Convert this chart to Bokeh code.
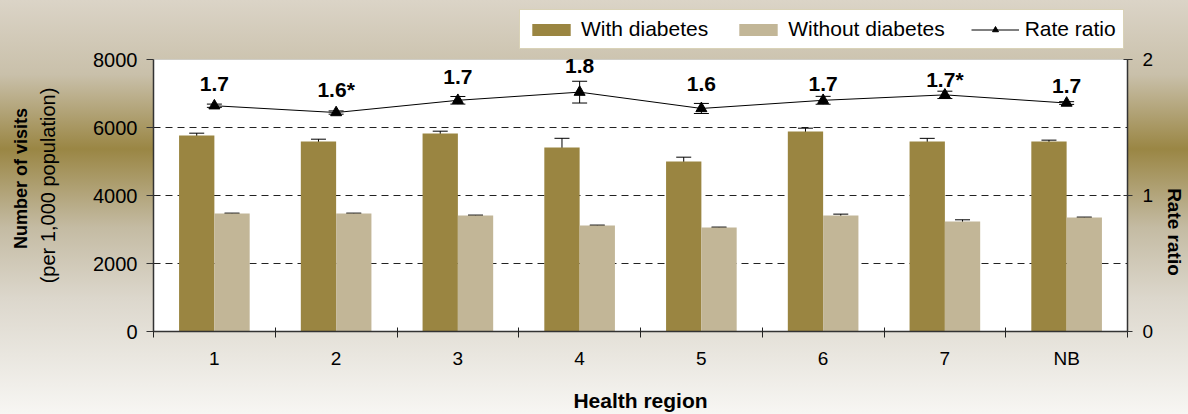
import numpy as np
from bokeh.plotting import figure
from bokeh.models import (ColumnDataSource, Range1d, LinearAxis, FixedTicker, Whisker,
                          TeeHead, Legend, LegendItem, BoxAnnotation)
from bokeh.core.properties import value
from bokeh.embed import file_html
from bokeh.resources import INLINE

# Visits per 1,000 population by health region
regions = ["1", "2", "3", "4", "5", "6", "7", "NB"]
with_diabetes = [5765, 5588, 5824, 5412, 5000, 5882, 5588, 5588]
with_diabetes_ci = [68, 68, 68, 270, 127, 98, 93, 40]
without_diabetes = [3470, 3470, 3412, 3118, 3059, 3412, 3235, 3353]
without_diabetes_ci = [12, 12, 12, 12, 12, 40, 50, 12]

# Rate ratio (with / without diabetes); "*" marks a significant difference
rate_ratio = [1.66, 1.61, 1.70, 1.76, 1.64, 1.70, 1.74, 1.68]
rate_ratio_ci = [0.012, 0.012, 0.028, 0.08, 0.037, 0.029, 0.027, 0.01]
significance = ["", "*", "", "", "", "", "*", ""]

visit_ticks = [0, 2000, 4000, 6000, 8000]
ratio_ticks = [0, 1, 2]
visit_max, ratio_max = 8000, 2

FONT = "Liberation Sans"
DARK = "#9a8541"
LIGHT = "#c2b697"
AXIS = "#333333"
NBSP = "\u00a0"

n = len(regions)
centers = np.arange(n) + 0.5
bar_w = 0.29
off = 0.145

# The frame reaches the top of the canvas so the legend can sit above the
# white plotting box; both ranges are stretched by the same factor.
FRAME_H, BOX_H = 331, 272
stretch = FRAME_H / BOX_H

p = figure(width=1188, height=414, title=None,
           x_range=Range1d(0, n), y_range=Range1d(0, visit_max * stretch),
           output_backend="svg", toolbar_location=None,
           min_border_left=153, min_border_right=58, min_border_top=0, min_border_bottom=83)
p.extra_y_ranges = {"ratio": Range1d(0, ratio_max * stretch)}
p.background_fill_color = None
p.border_fill_color = None
p.outline_line_color = None
p.styles = {"background": "linear-gradient(180deg, #dbd4c7 0%, #c9c0aa 18%, #9a8644 36%, "
                          "#c4bba3 55%, #dcd7cc 72%, #f7f6f3 100%)"}

# white plotting box
p.add_layout(BoxAnnotation(left=0, right=n, bottom=0, top=visit_max, fill_color="white",
                           fill_alpha=1, line_color="#9a9a9a", line_width=1, level="image"))

src = ColumnDataSource(dict(
    x_with=centers - off, x_without=centers + off, x=centers,
    with_d=with_diabetes,
    with_lo=[v - e for v, e in zip(with_diabetes, with_diabetes_ci)],
    with_hi=[v + e for v, e in zip(with_diabetes, with_diabetes_ci)],
    without_d=without_diabetes,
    without_lo=[v - e for v, e in zip(without_diabetes, without_diabetes_ci)],
    without_hi=[v + e for v, e in zip(without_diabetes, without_diabetes_ci)],
    ratio=rate_ratio,
    ratio_lo=[v - e for v, e in zip(rate_ratio, rate_ratio_ci)],
    ratio_hi=[v + e for v, e in zip(rate_ratio, rate_ratio_ci)],
    label=[f"{r:.1f}{s}" for r, s in zip(rate_ratio, significance)],
    lift=[-22, -23, -23, -26, -24, -16, -15, -17],
))

# dashed horizontal grid
p.xgrid.visible = False
p.ygrid.ticker = FixedTicker(ticks=[2000, 4000, 6000])
p.ygrid.grid_line_color = "#222222"
p.ygrid.grid_line_dash = "7 5"
p.ygrid.grid_line_width = 1

# bars
r_with = p.vbar(x="x_with", top="with_d", width=bar_w, source=src, fill_color=DARK, line_color=None)
r_without = p.vbar(x="x_without", top="without_d", width=bar_w, source=src, fill_color=LIGHT, line_color=None)


def whisker(base, lo, hi, rng="default"):
    w = Whisker(base=base, lower=lo, upper=hi, source=src, line_color="black", line_width=1,
                upper_head=TeeHead(size=15, line_color="black", line_width=1),
                lower_head=TeeHead(size=15, line_color="black", line_width=1),
                y_range_name=rng)
    p.add_layout(w)


whisker("x_with", "with_lo", "with_hi")
whisker("x_without", "without_lo", "without_hi")

# rate ratio on the secondary axis
r_line = p.line(x="x", y="ratio", source=src, line_color="black", line_width=1, y_range_name="ratio")
whisker("x", "ratio_lo", "ratio_hi", rng="ratio")
r_pts = p.scatter(x="x", y="ratio", source=src, marker="triangle", size=11, fill_color="black",
                  line_color="black", y_range_name="ratio")
p.text(x="x", y="ratio", text="label", source=src, y_range_name="ratio", y_offset="lift",
       text_font=value(FONT), text_font_style="bold", text_font_size="21px",
       text_align="center", text_baseline="alphabetic", text_color="black")

# left axis: visits
yax = p.yaxis[0]
yax.bounds = (0, visit_max)
yax.ticker = FixedTicker(ticks=visit_ticks)
yax.major_tick_in = 0
yax.major_tick_out = 7
yax.minor_tick_line_color = None
yax.major_label_standoff = 9
yax.major_label_text_font = FONT
yax.major_label_text_font_size = "20px"
yax.major_label_text_color = "black"
yax.axis_line_color = AXIS
yax.axis_line_width = 1.5
yax.major_tick_line_color = AXIS
# trailing no-break spaces lower the title along the axis
yax.axis_label = "(per 1,000 population)" + NBSP * 7
yax.axis_label_text_font = FONT
yax.axis_label_text_font_size = "20px"
yax.axis_label_text_font_style = "normal"
yax.axis_label_text_color = "black"
yax.axis_label_standoff = 31

# outer left title line (bold); carries no visible ticks or numbers
title_ax = LinearAxis(ticker=FixedTicker(ticks=[0]), bounds=(0, visit_max), axis_line_color=None,
                      major_tick_in=0, major_tick_out=0, major_label_standoff=0,
                      major_label_text_font_size="0px", major_label_text_color=None,
                      minor_tick_line_color=None, major_tick_line_color=None,
                      axis_label="Number of visits" + NBSP * 5, axis_label_standoff=4,
                      axis_label_text_font=FONT, axis_label_text_font_size="18px",
                      axis_label_text_font_style="bold", axis_label_text_color="black")
p.add_layout(title_ax, "left")

# bottom axis: health regions, ticks between categories
xax = p.xaxis[0]
xax.ticker = FixedTicker(ticks=list(centers), minor_ticks=list(range(n + 1)))
xax.major_label_overrides = {float(c): r for c, r in zip(centers, regions)}
xax.major_tick_line_color = None
xax.major_tick_in = 0
xax.major_tick_out = 6
xax.minor_tick_in = 4
xax.minor_tick_out = 6
xax.minor_tick_line_color = "#222222"
xax.major_label_standoff = 10
xax.major_label_text_font = FONT
xax.major_label_text_font_size = "19px"
xax.major_label_text_color = "black"
xax.axis_line_color = AXIS
xax.axis_line_width = 1.5
xax.axis_label = "Health region"
xax.axis_label_standoff = 17
xax.axis_label_text_font = FONT
xax.axis_label_text_font_size = "21px"
xax.axis_label_text_font_style = "bold"
xax.axis_label_text_color = "black"

# right axis: rate ratio
rax = LinearAxis(y_range_name="ratio", ticker=FixedTicker(ticks=ratio_ticks), bounds=(0, ratio_max))
rax.major_tick_in = 4
rax.major_tick_out = 5
rax.minor_tick_line_color = None
rax.major_label_standoff = 10
rax.major_label_text_font = FONT
rax.major_label_text_font_size = "19px"
rax.major_label_text_color = "black"
rax.axis_line_color = AXIS
rax.axis_line_width = 1.5
rax.major_tick_line_color = AXIS
# leading no-break spaces lower the title along the axis
rax.axis_label = NBSP * 25 + "Rate ratio"
rax.axis_label_standoff = 8
rax.axis_label_text_font = FONT
rax.axis_label_text_font_size = "19px"
rax.axis_label_text_font_style = "bold"
rax.axis_label_text_color = "black"
p.add_layout(rax, "right")

# legend in the band above the plotting box
legend = Legend(items=[LegendItem(label="With diabetes", renderers=[r_with]),
                       LegendItem(label="Without diabetes", renderers=[r_without]),
                       LegendItem(label="Rate ratio", renderers=[r_line, r_pts])],
                orientation="horizontal", location=(366, 282),
                glyph_width=48, glyph_height=15, label_standoff=6, spacing=26, padding=7,
                margin=0, label_text_font=FONT, label_text_font_size="21px",
                label_text_color="black", border_line_color="#b3a66f", border_line_width=1,
                background_fill_color="white", background_fill_alpha=1)
p.add_layout(legend, "center")

open("out.html", "w").write(file_html(p, INLINE))
